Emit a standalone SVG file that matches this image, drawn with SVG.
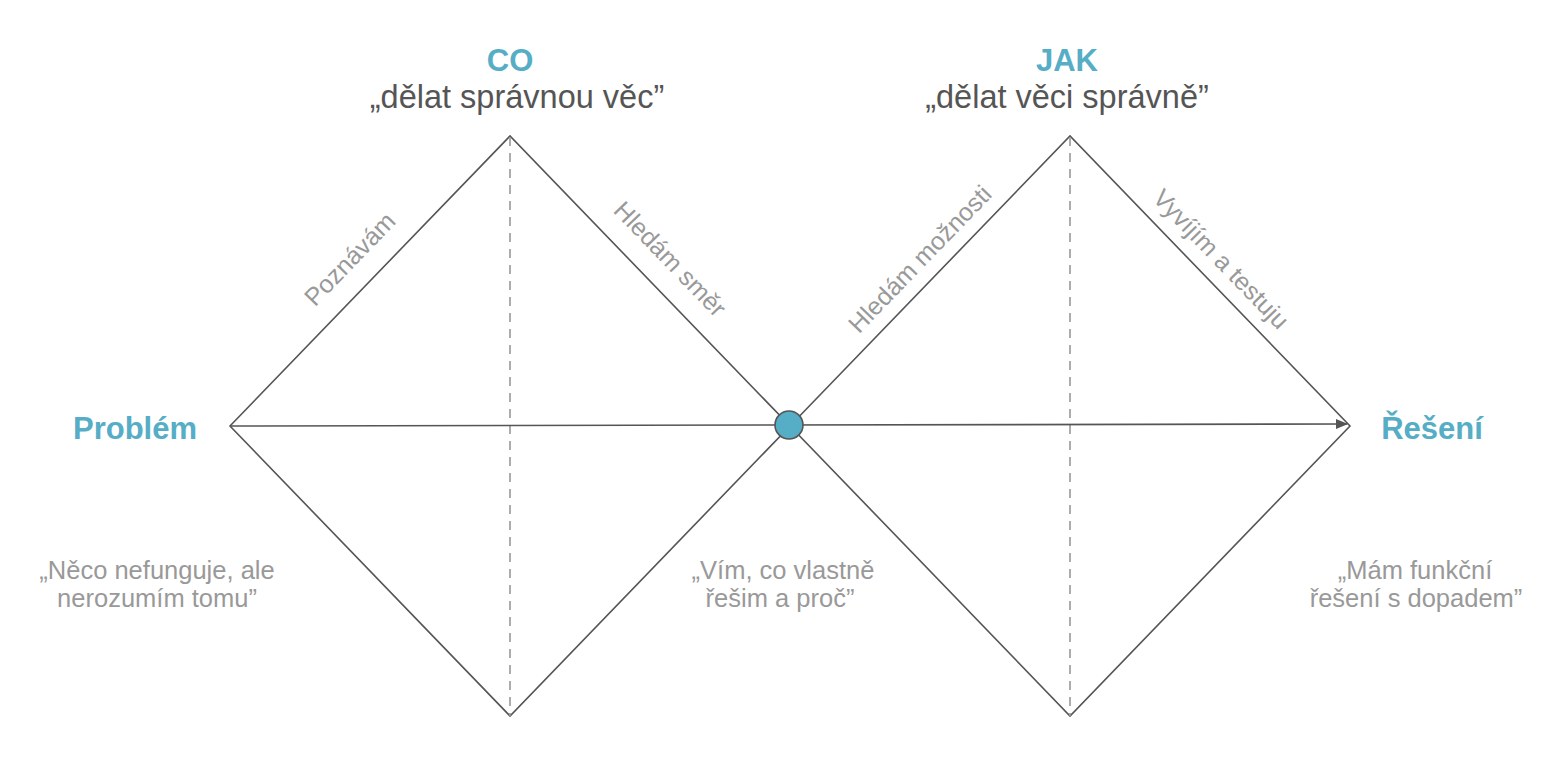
<svg xmlns="http://www.w3.org/2000/svg" width="1566" height="766" viewBox="0 0 1566 766">
<style>
.edge{fill:none;stroke:#555;stroke-width:1.6}
.dash{fill:none;stroke:#999;stroke-width:1.6;stroke-dasharray:9 7}
.t{font-family:"Liberation Sans",Arial,sans-serif}
.head{font-weight:bold;fill:#56adc6;font-size:31px}
.sub{fill:#555;font-size:32.5px}
.lab{fill:#999;font-size:25px}
.q{fill:#999;font-size:25.5px}
</style>
<defs>
<marker id="arr" markerWidth="12" markerHeight="10" refX="11" refY="5" orient="auto" markerUnits="userSpaceOnUse">
<path d="M0,0 L12,5 L0,10 Z" fill="#555"/>
</marker>
</defs>
<rect width="1566" height="766" fill="#fff"/>
<g id="connectors">
<path class="edge" d="M230,426 L510,136 L790,426 L510,716 Z"/>
<path class="edge" d="M790,426 L1070,136 L1350,426 L1070,716 Z"/>
<line class="dash" x1="510" y1="137" x2="510" y2="716"/>
<line class="dash" x1="1070" y1="137" x2="1070" y2="716"/>
<line class="edge" x1="230" y1="426" x2="1347" y2="424" marker-end="url(#arr)"/>
</g>
<g id="center-node">
<circle cx="789" cy="425" r="14" fill="#56adc6" stroke="#555" stroke-width="1.6"/>
</g>
<g id="co">
<text class="t head" x="510" y="71" text-anchor="middle">CO</text>
<text class="t sub" x="517" y="108" text-anchor="middle">„dělat správnou věc”</text>
</g>
<g id="jak">
<text class="t head" x="1067" y="71" text-anchor="middle">JAK</text>
<text class="t sub" x="1067" y="108" text-anchor="middle">„dělat věci správně”</text>
</g>
<g id="problem">
<text class="t head" x="135" y="439" text-anchor="middle" font-size="28">Problém</text>
</g>
<g id="reseni">
<text class="t head" x="1432" y="439" text-anchor="middle" font-size="28">Řešení</text>
</g>
<g id="labels">
<text class="t lab" transform="translate(356,265) rotate(-46)" text-anchor="middle">Poznávám</text>
<text class="t lab" transform="translate(664,265) rotate(46)" text-anchor="middle">Hledám směr</text>
<text class="t lab" transform="translate(926,265) rotate(-46)" text-anchor="middle">Hledám možnosti</text>
<text class="t lab" transform="translate(1215,265) rotate(46)" text-anchor="middle">Vyvíjím a testuju</text>
</g>
<g id="quote-left">
<text class="t q" x="157" y="579" text-anchor="middle">„Něco nefunguje, ale</text>
<text class="t q" x="157" y="607" text-anchor="middle">nerozumím tomu”</text>
</g>
<g id="quote-mid">
<text class="t q" x="783" y="579" text-anchor="middle">„Vím, co vlastně</text>
<text class="t q" x="780" y="607" text-anchor="middle">řešim a proč”</text>
</g>
<g id="quote-right">
<text class="t q" x="1415" y="579" text-anchor="middle">„Mám funkční</text>
<text class="t q" x="1416" y="607" text-anchor="middle">řešení s dopadem”</text>
</g>
</svg>
